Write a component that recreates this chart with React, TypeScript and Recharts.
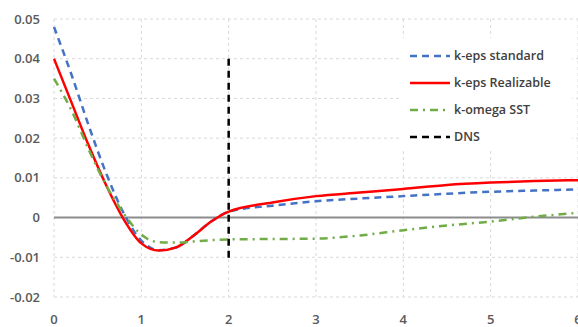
import React from "react";
import {
  LineChart,
  Line,
  XAxis,
  YAxis,
  CartesianGrid,
  ReferenceLine,
} from "recharts";

const xs = [0, 0.2, 0.4, 0.6, 0.8, 1.0, 1.2, 1.4, 1.6, 1.8, 2.0, 2.5, 3, 3.5, 4, 4.5, 5, 5.5, 6];
const kEpsStandard = [0.048, 0.036, 0.023, 0.011, 0.001, -0.0058, -0.0082, -0.0075, -0.0045, -0.001, 0.0015, 0.003, 0.0041, 0.0048, 0.0054, 0.006, 0.0065, 0.0068, 0.0071];
const kEpsRealizable = [0.04, 0.029, 0.018, 0.008, -0.0005, -0.0065, -0.0083, -0.0075, -0.0045, -0.001, 0.0015, 0.0038, 0.0054, 0.0063, 0.0072, 0.0082, 0.0088, 0.0092, 0.0094];
const kOmegaSST = [0.035, 0.027, 0.017, 0.008, 0.001, -0.0043, -0.0062, -0.0063, -0.006, -0.0057, -0.0055, -0.0054, -0.0053, -0.0045, -0.0032, -0.002, -0.001, 0.0002, 0.0012];
const dnsX = [2, 2];
const dnsY = [0.04, -0.011];

const xTicks = [0, 1, 2, 3, 4, 5, 6];
const yTicks = [-0.02, -0.01, 0, 0.01, 0.02, 0.03, 0.04, 0.05];

const rows = xs.map((x, i) => ({
  x,
  std: kEpsStandard[i],
  real: kEpsRealizable[i],
  sst: kOmegaSST[i],
}));
const dnsRows = dnsX.map((x, i) => ({ x, dns: dnsY[i] }));

const series = [
  { name: "k-eps standard", color: "#4472C4", dash: "7 5" },
  { name: "k-eps Realizable", color: "#FF0000", dash: undefined },
  { name: "k-omega SST", color: "#70AD47", dash: "8 5 2 5" },
  { name: "DNS", color: "#000000", dash: "7 5" },
];

const font = "'Open Sans', 'Liberation Sans', sans-serif";

// legend sits on a white box over the grid, like the original
function LegendBox() {
  return (
    <div
      style={{
        position: "absolute",
        left: 402,
        top: 38,
        width: 170,
        height: 112,
        background: "#fff",
        padding: "4px 0 0 8px",
        boxSizing: "border-box",
        fontFamily: font,
      }}
    >
      {series.map((s) => (
        <div key={s.name} style={{ display: "flex", alignItems: "center", height: 27 }}>
          <svg width={40} height={10}>
            <line x1={0} y1={5} x2={40} y2={5} stroke={s.color} strokeWidth={2.5} strokeDasharray={s.dash} />
          </svg>
          <span style={{ marginLeft: 4, fontSize: 12.5, fontWeight: 600, color: "#404040" }}>{s.name}</span>
        </div>
      ))}
    </div>
  );
}

export default function App() {
  return (
    <div style={{ position: "absolute", left: 0, top: 0, width: 578, height: 327, overflow: "hidden", background: "#fff" }}>
      <LineChart width={600} height={327} data={rows} margin={{ top: 19, right: 22, bottom: 0, left: 0 }}>
        <CartesianGrid stroke="#d9d9d9" strokeDasharray="3 3" />
        <XAxis
          dataKey="x"
          type="number"
          domain={[0, 6]}
          ticks={xTicks}
          axisLine={false}
          tickLine={false}
          tickSize={0}
          tickMargin={18}
          height={30}
          tick={{ fill: "#595959", fontSize: 13, fontWeight: 600, fontFamily: font }}
        />
        <YAxis
          type="number"
          domain={[-0.02, 0.05]}
          ticks={yTicks}
          axisLine={false}
          tickLine={false}
          tickSize={0}
          tickMargin={14}
          width={54}
          tickFormatter={(v: number) => (v === 0 ? "0" : v.toFixed(2))}
          tick={{ fill: "#595959", fontSize: 13, fontWeight: 600, fontFamily: font }}
        />
        <ReferenceLine y={0} stroke="#8c8c8c" strokeWidth={2} />
        <Line type="monotone" dataKey="std" name="k-eps standard" stroke="#4472C4" strokeWidth={2.5} strokeDasharray="7 5" dot={false} isAnimationActive={false} />
        <Line type="monotone" dataKey="real" name="k-eps Realizable" stroke="#FF0000" strokeWidth={2.5} dot={false} isAnimationActive={false} />
        <Line type="monotone" dataKey="sst" name="k-omega SST" stroke="#70AD47" strokeWidth={2.5} strokeDasharray="8 5 2 5" dot={false} isAnimationActive={false} />
        <Line data={dnsRows} type="linear" dataKey="dns" name="DNS" stroke="#000000" strokeWidth={2.5} strokeDasharray="7 5" dot={false} isAnimationActive={false} />
      </LineChart>
      <LegendBox />
    </div>
  );
}
